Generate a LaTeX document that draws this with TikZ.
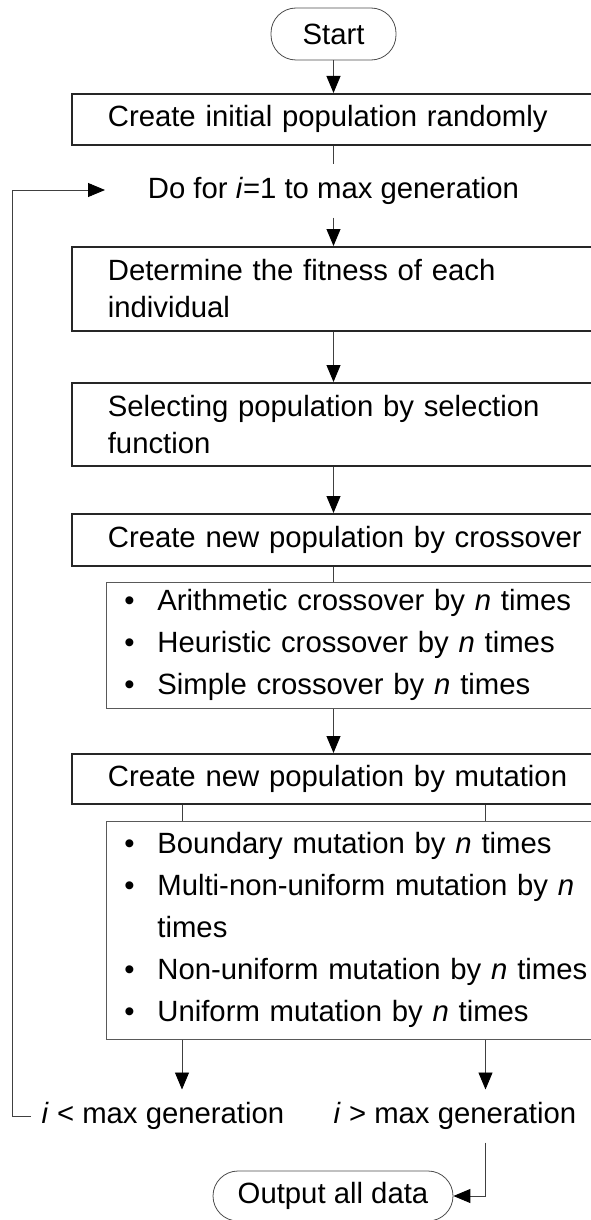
\documentclass[tikz,border=0pt]{standalone}
\usepackage{fontspec}
\setmainfont{Liberation Sans}
\usepackage{tikz}
\usetikzlibrary{arrows.meta}

\newcommand{\listdot}{\makebox[33pt][l]{\textbullet}}

\begin{document}
\begin{tikzpicture}[x=1pt, y=-1pt, line width=1pt,
    flow/.style={draw=black!75, line width=0.9pt, -{Triangle[length=17pt, width=14pt, color=black]}},
    link/.style={draw=black!75, line width=0.9pt},
    terminal/.style={draw=black!70, line width=0.8pt, rounded corners=25pt, minimum width=125pt,
                     minimum height=52pt, inner sep=0pt, font=\fontsize{29.3}{38}\selectfont},
    process/.style={draw=black!85, line width=1.7pt, anchor=north west, text width=500pt,
                    inner xsep=36pt, inner ysep=0pt, align=left, font=\fontsize{29.3}{37}\selectfont},
    steplist/.style={draw=black!65, line width=0.8pt, anchor=north west, text width=470pt,
                     inner xsep=18pt, inner ysep=0pt, align=left, font=\fontsize{29.3}{42}\selectfont},
    caption/.style={inner xsep=10pt, inner ysep=0pt, minimum height=52pt, font=\fontsize{29.3}{38}\selectfont}]

\useasboundingbox (0, 0) rectangle (591, 1220);

% column positions
\coordinate (spine) at (333.5, 0);
\coordinate (splitL) at (182, 0);
\coordinate (splitR) at (485.5, 0);
\coordinate (loop) at (12, 190);
\coordinate (looptip) at (105, 190);

% draw start and stop
\node[terminal] (start) at (333.5, 34) {Start};
\node[terminal, minimum width=240pt, minimum height=50pt] (output) at (333, 1196) {Output all data};

% draw main steps
\node[process, minimum height=51pt] (init) at (71, 93) {Create initial population randomly};
\node[caption, inner xsep=0pt, minimum height=53pt] (dofor) at (333.5, 190.5) {Do for \textit{i}=1 to max generation};
\node[process, minimum height=84pt] (fitness) at (71, 246) {Determine the fitness of each\\individual};
\node[process, minimum height=83pt] (select) at (71, 382) {Selecting population by selection\\function};
\node[process, minimum height=52pt] (cross) at (71, 513) {Create new population by crossover};
\node[steplist, minimum height=126pt] (crosslist) at (106, 582)
    {\listdot Arithmetic crossover by \textit{n} times\\
     \listdot Heuristic crossover by \textit{n} times\\
     \listdot Simple crossover by \textit{n} times};
\node[process, minimum height=50pt] (mutate) at (71, 753) {Create new population by mutation};
\node[steplist, minimum height=218pt] (mutlist) at (106, 821)
    {\listdot Boundary mutation by \textit{n} times\\
     \listdot Multi-non-uniform mutation by \textit{n}\\
     \hspace*{33pt}times\\
     \listdot Non-uniform mutation by \textit{n} times\\
     \listdot Uniform mutation by \textit{n} times};

% draw outcomes
\node[caption] (less) at (163, 1116) {\textit{i} < max generation};
\node[caption] (more) at (455, 1116) {\textit{i} > max generation};

% draw connectors
\draw[flow] (start.south) -- (init.north -| spine);
\draw[link] (init.south -| spine) -- (dofor.north);
\draw[flow] (dofor.south) -- (fitness.north -| spine);
\draw[flow] (fitness.south -| spine) -- (select.north -| spine);
\draw[flow] (select.south -| spine) -- (cross.north -| spine);
\draw[link] (cross.south -| spine) -- (crosslist.north -| spine);
\draw[flow] (crosslist.south -| spine) -- (mutate.north -| spine);
\draw[link] (mutate.south -| splitL) -- (mutlist.north -| splitL);
\draw[link] (mutate.south -| splitR) -- (mutlist.north -| splitR);
\draw[flow] (mutlist.south -| splitL) -- (less.north -| splitL);
\draw[flow] (mutlist.south -| splitR) -- (more.north -| splitR);
\draw[flow] (more.south -| splitR) |- (output.east);

% draw loop back
\draw[flow] (less.west) -| (loop) -- (looptip);

\end{tikzpicture}
\end{document}
